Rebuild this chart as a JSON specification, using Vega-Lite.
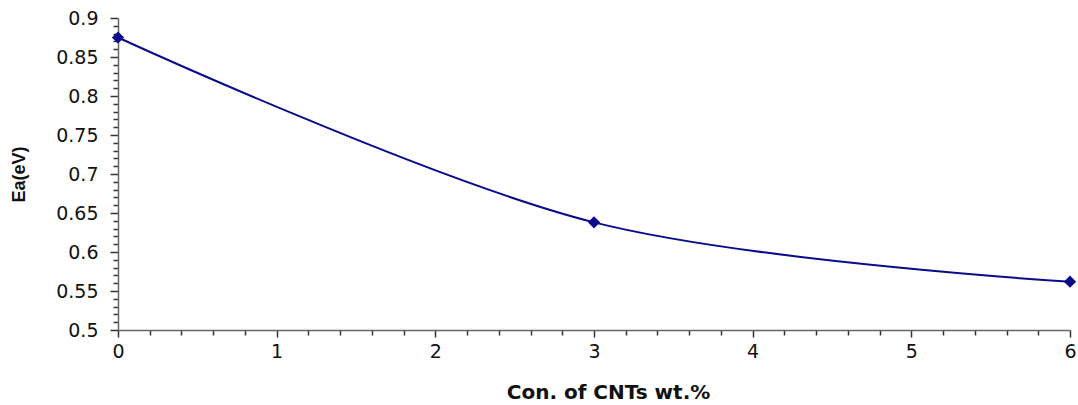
{
  "$schema": "https://vega.github.io/schema/vega-lite/v6.json",
  "width": 952,
  "height": 312,
  "autosize": "none",
  "padding": {"left": 118, "top": 18, "right": 8, "bottom": 75},
  "background": "white",
  "config": {"view": {"stroke": null}, "font": "Liberation Sans"},
  "data": {"values": [
    {"cnt": 0, "ea": 0.875},
    {"cnt": 3, "ea": 0.638},
    {"cnt": 6, "ea": 0.562}
  ]},
  "encoding": {
    "x": {"field": "cnt", "type": "quantitative",
      "scale": {"domain": [0, 6], "nice": false, "zero": false},
      "axis": {
        "title": "Con. of CNTs wt.%",
        "titleFont": "DejaVu Sans", "titleFontSize": 20, "titleFontWeight": "bold", "titleColor": "#111",
        "titlePadding": 21, "titleX": 490,
        "values": [0,0.2,0.4,0.6,0.8,1,1.2,1.4,1.6,1.8,2,2.2,2.4,2.6,2.8,3,3.2,3.4,3.6,3.8,4,4.2,4.4,4.6,4.8,5,5.2,5.4,5.6,5.8,6],
        "labelExpr": "abs(datum.value - round(datum.value)) < 0.001 ? format(datum.value, 'd') : ''",
        "tickSize": {"condition": {"test": "abs(datum.value - round(datum.value)) < 0.001", "value": 7}, "value": 5},
        "labelFontSize": 19, "labelColor": "#111", "labelFont": "DejaVu Sans",
        "labelPadding": 5, "labelFlush": false, "labelOverlap": false,
        "domainColor": "#666", "tickColor": "#333", "domainWidth": 1.5, "tickWidth": 1.5,
        "grid": false
      }
    },
    "y": {"field": "ea", "type": "quantitative",
      "scale": {"domain": [0.5, 0.9], "nice": false, "zero": false},
      "axis": {
        "title": "Ea(eV)",
        "titleFont": "Liberation Sans", "titleFontSize": 18, "titleFontWeight": "bold", "titleColor": "#111",
        "titlePadding": 27,
        "values": [0.5,0.51,0.52,0.53,0.54,0.55,0.56,0.57,0.58,0.59,0.6,0.61,0.62,0.63,0.64,0.65,0.66,0.67,0.68,0.69,0.7,0.71,0.72,0.73,0.74,0.75,0.76,0.77,0.78,0.79,0.8,0.81,0.82,0.83,0.84,0.85,0.86,0.87,0.88,0.89,0.9],
        "labelExpr": "abs(datum.value*20 - round(datum.value*20)) < 0.001 ? format(datum.value, '') : ''",
        "tickSize": {"condition": {"test": "abs(datum.value*20 - round(datum.value*20)) < 0.001", "value": 8}, "value": 5},
        "labelFontSize": 19, "labelColor": "#111", "labelFont": "DejaVu Sans",
        "labelPadding": 12, "labelFlush": false, "labelOverlap": false,
        "domainColor": "#666", "tickColor": "#333", "domainWidth": 1.5, "tickWidth": 1.5,
        "grid": false
      }
    }
  },
  "layer": [
    {"mark": {"type": "line", "interpolate": "catmull-rom", "color": "#0a0a8c", "strokeWidth": 2}},
    {"mark": {"type": "point", "shape": "diamond", "filled": true, "size": 150, "color": "#0a0a8c", "opacity": 1}}
  ]
}
